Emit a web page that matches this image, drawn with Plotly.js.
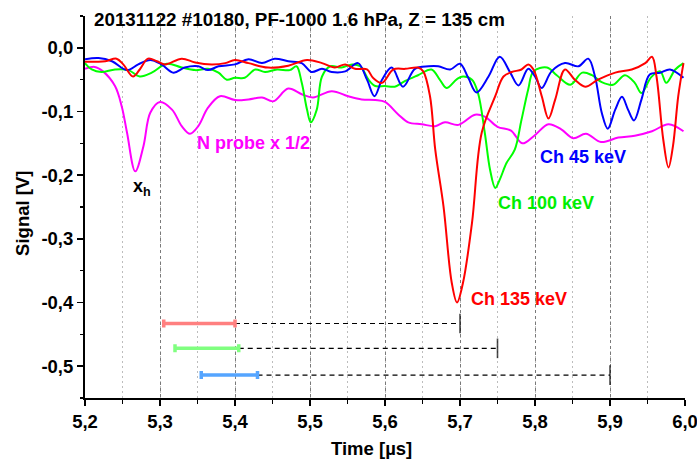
<!DOCTYPE html>
<html>
<head>
<meta charset="utf-8">
<script src="https://cdn.plot.ly/plotly-3.0.1.min.js"></script>
<style>html,body{margin:0;padding:0;background:#fff;}#chart{width:697px;height:464px;}</style>
</head>
<body>
<div id="chart"></div>
<script>
// ---- Data ----
const redX = [5.200,5.227,5.242,5.251,5.264,5.273,5.284,5.296,5.307,5.329,5.347,5.369,5.387,5.400,5.418,5.444,5.471,5.496,5.516,5.533,5.547,5.560,5.576,5.584,5.596,5.611,5.627,5.644,5.651,5.660,5.667,5.678,5.689,5.696,5.704,5.716,5.729,5.747,5.758,5.769,5.782,5.791,5.798,5.809,5.818,5.827,5.840,5.853,5.867,5.884,5.907,5.929,5.947,5.956,5.962,5.971,5.978,5.984,5.991,5.998];
const redY = [-0.022,-0.021,-0.017,-0.026,-0.045,-0.034,-0.017,-0.021,-0.026,-0.017,-0.023,-0.026,-0.024,-0.019,-0.024,-0.031,-0.028,-0.019,-0.024,-0.031,-0.026,-0.033,-0.034,-0.047,-0.055,-0.034,-0.033,-0.031,-0.037,-0.076,-0.160,-0.249,-0.369,-0.400,-0.369,-0.275,-0.133,-0.076,-0.045,-0.038,-0.034,-0.026,-0.034,-0.076,-0.111,-0.081,-0.034,-0.050,-0.061,-0.050,-0.039,-0.034,-0.024,-0.014,-0.045,-0.144,-0.188,-0.154,-0.076,-0.024];

const blueX = [5.200,5.218,5.236,5.256,5.271,5.287,5.302,5.318,5.333,5.351,5.364,5.378,5.400,5.418,5.436,5.453,5.471,5.489,5.502,5.516,5.529,5.547,5.564,5.576,5.586,5.596,5.609,5.624,5.640,5.658,5.671,5.687,5.700,5.711,5.722,5.738,5.753,5.767,5.778,5.791,5.800,5.809,5.822,5.840,5.858,5.871,5.880,5.889,5.897,5.907,5.916,5.924,5.932,5.942,5.953,5.967,5.980,5.998];
const blueY = [-0.018,-0.016,-0.021,-0.035,-0.026,-0.019,-0.026,-0.039,-0.031,-0.029,-0.035,-0.029,-0.026,-0.018,-0.024,-0.017,-0.021,-0.024,-0.038,-0.033,-0.038,-0.037,-0.024,-0.050,-0.076,-0.050,-0.031,-0.061,-0.033,-0.029,-0.029,-0.034,-0.025,-0.047,-0.070,-0.045,-0.014,-0.039,-0.059,-0.033,-0.045,-0.063,-0.037,-0.024,-0.029,-0.017,-0.045,-0.102,-0.127,-0.097,-0.077,-0.097,-0.114,-0.081,-0.042,-0.039,-0.034,-0.047];

const greenX = [5.200,5.209,5.222,5.240,5.258,5.273,5.289,5.309,5.329,5.347,5.364,5.378,5.389,5.400,5.413,5.427,5.440,5.456,5.473,5.482,5.489,5.496,5.501,5.509,5.516,5.527,5.542,5.556,5.567,5.578,5.587,5.600,5.613,5.627,5.644,5.662,5.673,5.682,5.696,5.704,5.716,5.724,5.733,5.740,5.747,5.753,5.762,5.773,5.782,5.791,5.798,5.816,5.829,5.847,5.863,5.876,5.889,5.904,5.920,5.933,5.942,5.955,5.967,5.975,5.987,5.998];
const greenY = [-0.024,-0.034,-0.038,-0.034,-0.035,-0.045,-0.039,-0.025,-0.031,-0.035,-0.033,-0.039,-0.050,-0.047,-0.047,-0.034,-0.038,-0.034,-0.035,-0.029,-0.055,-0.097,-0.117,-0.097,-0.045,-0.029,-0.031,-0.026,-0.029,-0.050,-0.060,-0.060,-0.061,-0.052,-0.043,-0.034,-0.050,-0.063,-0.049,-0.045,-0.050,-0.071,-0.133,-0.191,-0.220,-0.207,-0.181,-0.160,-0.113,-0.065,-0.037,-0.031,-0.043,-0.058,-0.039,-0.043,-0.054,-0.058,-0.043,-0.055,-0.071,-0.046,-0.037,-0.055,-0.034,-0.024];

const probeX = [5.200,5.213,5.224,5.240,5.249,5.256,5.267,5.278,5.287,5.300,5.316,5.329,5.340,5.351,5.364,5.380,5.400,5.418,5.436,5.451,5.471,5.489,5.504,5.529,5.551,5.569,5.587,5.600,5.618,5.631,5.649,5.667,5.680,5.698,5.720,5.733,5.750,5.768,5.783,5.799,5.818,5.835,5.851,5.868,5.888,5.911,5.933,5.956,5.978,5.998];
const probeY = [-0.033,-0.030,-0.037,-0.060,-0.092,-0.133,-0.194,-0.154,-0.102,-0.085,-0.097,-0.123,-0.135,-0.123,-0.094,-0.076,-0.082,-0.081,-0.078,-0.084,-0.064,-0.073,-0.078,-0.068,-0.076,-0.081,-0.082,-0.085,-0.105,-0.117,-0.120,-0.123,-0.117,-0.121,-0.105,-0.108,-0.124,-0.130,-0.150,-0.138,-0.120,-0.128,-0.142,-0.135,-0.148,-0.141,-0.138,-0.131,-0.120,-0.131];

// time-of-flight intervals (coloured bars) and their dashed extensions
const barStart = [5.305, 5.320, 5.355];
const barEnd   = [5.400, 5.405, 5.430];
const dashEnd  = [5.700, 5.750, 5.900];
const barLevel = [-0.433, -0.472, -0.514];
const barColors = ['#ff8080', '#80ff80', '#55a5ff'];

const xTickVals = [5.2,5.3,5.4,5.5,5.6,5.7,5.8,5.9,6.0];
const xTickText = ['5,2','5,3','5,4','5,5','5,6','5,7','5,8','5,9','6,0'];
const yTickVals = [0.0,-0.1,-0.2,-0.3,-0.4,-0.5];
const yTickText = ['0,0','-0,1','-0,2','-0,3','-0,4','-0,5'];

const seriesLabels = ['Ch 135 keV','Ch 100 keV','Ch 45 keV','N probe x 1/2'];
const titleText = '20131122 #10180, PF-1000 1.6 hPa, Z = 135 cm';
const xTitle = 'Time [µs]';
const yTitle = 'Signal [V]';

// ---- Build ----
const FONT = 'Liberation Sans, Arial, Helvetica, sans-serif';
const traces = [];
function curve(x, y, color) {
  return {x: x, y: y, type: 'scatter', mode: 'lines',
          line: {color: color, width: 2, shape: 'spline', smoothing: 1},
          hoverinfo: 'skip'};
}
traces.push(curve(probeX, probeY, '#ff00ff'));
traces.push(curve(greenX, greenY, '#00ff00'));
traces.push(curve(blueX, blueY, '#0000ff'));
traces.push(curve(redX, redY, '#ff0000'));

for (let i = 0; i < barStart.length; i++) {
  traces.push({x: [barEnd[i], dashEnd[i]], y: [barLevel[i], barLevel[i]],
    type: 'scatter', mode: 'lines+markers',
    line: {color: 'black', width: 1.2, dash: '5px,4px'},
    marker: {symbol: 'line-ns', size: [0, 14], color: 'black', line: {color: 'black', width: 1.6}},
    hoverinfo: 'skip'});
  const mid = (barStart[i] + barEnd[i]) / 2;
  const half = (barEnd[i] - barStart[i]) / 2;
  traces.push({x: [mid], y: [barLevel[i]], type: 'scatter', mode: 'markers',
    marker: {size: 1, color: barColors[i], opacity: 0},
    error_x: {type: 'data', array: [half], symmetric: true, color: barColors[i], thickness: 3.5, width: 4},
    hoverinfo: 'skip'});
}

const labelFont = (c) => ({family: FONT, size: 18, color: c, weight: 'bold'});
const bigFont = {family: FONT, size: 18.5, color: 'black', weight: 'bold'};
const annotations = [
  {xref: 'paper', yref: 'paper', x: 0.0117, y: 0.99, xanchor: 'left', yanchor: 'middle',
   text: titleText, showarrow: false, font: {family: FONT, size: 18.8, color: 'black', weight: 'bold'}},
  {xref: 'paper', yref: 'paper', x: 0.478, y: -0.1335, xanchor: 'center', yanchor: 'middle',
   text: xTitle, showarrow: false, font: bigFont},
  {xref: 'paper', yref: 'paper', x: -0.1033, y: 0.482, xanchor: 'center', yanchor: 'middle',
   text: yTitle, textangle: -90, showarrow: false, font: bigFont},
  {x: 5.425, y: -0.150, text: seriesLabels[3], showarrow: false, font: labelFont('#ff00ff')},
  {x: 5.276, y: -0.220, text: 'x<sub>h</sub>', showarrow: false, font: labelFont('#000000')},
  {x: 5.864, y: -0.172, text: seriesLabels[2], showarrow: false, font: labelFont('#0000ff')},
  {x: 5.815, y: -0.243, text: seriesLabels[1], showarrow: false, font: labelFont('#00ee00')},
  {x: 5.779, y: -0.394, text: seriesLabels[0], showarrow: false, font: labelFont('#ff0000')}
];

const tickFont = {family: FONT, size: 18.5, color: 'black', weight: 'bold'};
const layout = {
  width: 697, height: 464,
  margin: {l: 85, r: 12, t: 16, b: 66},
  paper_bgcolor: '#ffffff', plot_bgcolor: '#ffffff',
  showlegend: false,
  font: {family: FONT, size: 17, color: 'black'},
  xaxis: {
    range: [5.2, 6.0], tickmode: 'array', tickvals: xTickVals, ticktext: xTickText,
    ticks: 'outside', ticklen: 6, tickwidth: 1.5, tickcolor: 'black',
    showline: true, linewidth: 2, linecolor: 'black', mirror: false, zeroline: false,
    showgrid: true, gridcolor: '#7a7a7a', griddash: '3px,3px', gridwidth: 1,
    minor: {tickmode: 'linear', tick0: 5.2, dtick: 0.05, ticks: 'outside', ticklen: 3.5,
            tickwidth: 1.5, tickcolor: 'black', showgrid: true, gridcolor: '#bdbdbd',
            griddash: '2px,3px', gridwidth: 1},
    tickfont: tickFont,
    ticklabeloverflow: 'allow',
    fixedrange: true
  },
  yaxis: {
    range: [-0.55, 0.05], tickmode: 'array', tickvals: yTickVals, ticktext: yTickText,
    ticks: 'outside', ticklen: 6, tickwidth: 1.5, tickcolor: 'black',
    showline: true, linewidth: 2, linecolor: 'black', mirror: false, zeroline: false,
    showgrid: false,
    minor: {tickmode: 'linear', tick0: 0.05, dtick: 0.05, ticks: 'outside', ticklen: 3.5,
            tickwidth: 1.5, tickcolor: 'black', showgrid: false},
    tickfont: tickFont,
    ticklabeloverflow: 'allow',
    fixedrange: true
  },
  annotations: annotations
};

Plotly.newPlot('chart', traces, layout, {displayModeBar: false, staticPlot: true});
</script>
</body>
</html>
